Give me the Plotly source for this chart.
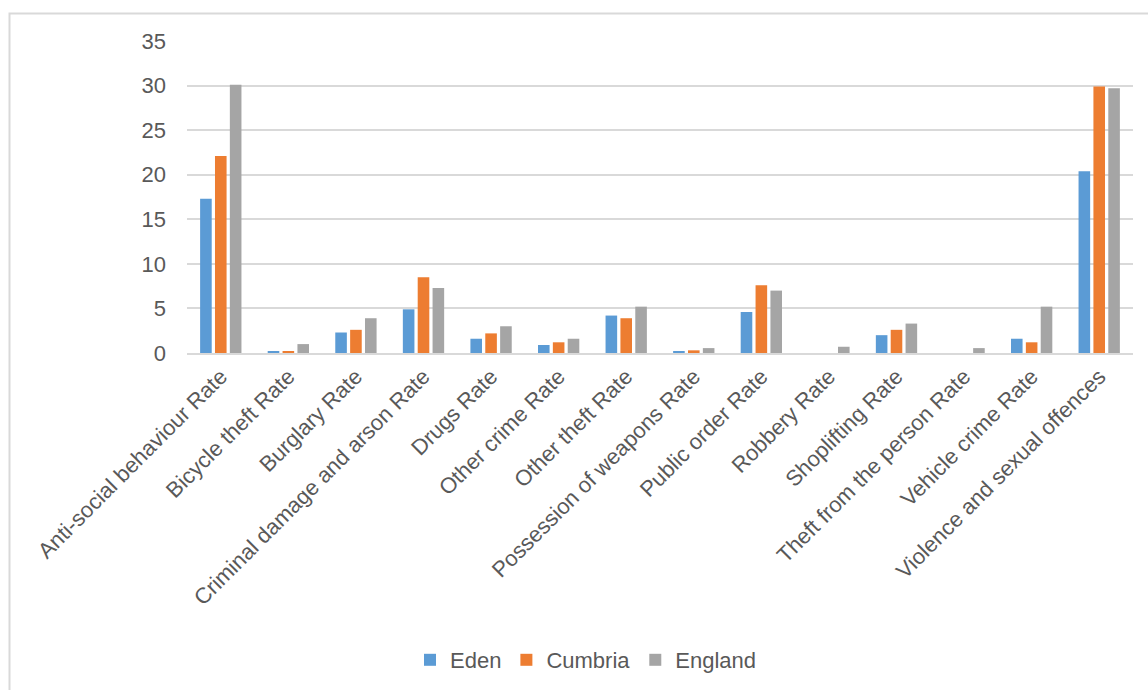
import plotly.graph_objects as go

categories = [
    "Anti-social behaviour Rate",
    "Bicycle theft Rate",
    "Burglary Rate",
    "Criminal damage and arson Rate",
    "Drugs Rate",
    "Other crime Rate",
    "Other theft Rate",
    "Possession of weapons Rate",
    "Public order Rate",
    "Robbery Rate",
    "Shoplifting Rate",
    "Theft from the person Rate",
    "Vehicle crime Rate",
    "Violence and sexual offences",
]

eden = [17.3, 0.15, 2.3, 4.9, 1.6, 0.9, 4.2, 0.15, 4.6, 0.0, 2.0, 0.0, 1.6, 20.4]
cumbria = [22.1, 0.2, 2.6, 8.5, 2.2, 1.2, 3.9, 0.3, 7.6, 0.0, 2.6, 0.0, 1.2, 29.9]
england = [30.1, 1.0, 3.9, 7.3, 3.0, 1.6, 5.2, 0.55, 7.0, 0.7, 3.3, 0.55, 5.2, 29.7]

y_ticks = [0, 5, 10, 15, 20, 25, 30, 35]

series = [
    ("Eden", eden, "#5b9bd5"),
    ("Cumbria", cumbria, "#ed7d31"),
    ("England", england, "#a5a5a5"),
]

fig = go.Figure()
for name, vals, color in series:
    fig.add_trace(go.Bar(
        name=name, x=categories, y=vals,
        marker=dict(color=color, line=dict(width=0)),
    ))

W, H = 1148, 690
L, R, T, B = 187, 15, 41, 337
pw = W - L - R
ph = H - T - B

def px_x(p):
    return (p - L) / pw

def px_y(p):
    return (H - B - p) / ph

text_font = dict(family="Liberation Sans, Arial, sans-serif", size=22, color="#595959")

fig.update_layout(
    width=W, height=H,
    margin=dict(l=L, r=R, t=T, b=B, autoexpand=False),
    paper_bgcolor="white",
    plot_bgcolor="white",
    barmode="group",
    bargap=0.34,
    bargroupgap=0.22,
    font=text_font,
    showlegend=True,
    legend=dict(
        orientation="h",
        x=px_x(586), xanchor="center",
        y=px_y(660), yanchor="middle",
        font=text_font,
        itemwidth=30,
        traceorder="normal",
    ),
    xaxis=dict(
        tickangle=-45,
        tickfont=text_font,
        showgrid=False,
        showline=True,
        linecolor="#d9d9d9",
        linewidth=2,
        ticks="",
        ticklabelstandoff=0,
        automargin=False,
    ),
    yaxis=dict(
        range=[0, 35],
        tickvals=y_ticks,
        ticktext=[str(v) for v in y_ticks],
        tickfont=text_font,
        showgrid=True,
        gridcolor="#d9d9d9",
        gridwidth=2,
        zeroline=False,
        showline=False,
        ticks="",
        ticklabelstandoff=20,
        automargin=False,
    ),
    shapes=[
        dict(
            type="rect", xref="paper", yref="paper",
            x0=px_x(9.5), x1=px_x(1170), y0=px_y(710), y1=px_y(13.5),
            line=dict(color="#d9d9d9", width=2),
            fillcolor="rgba(0,0,0,0)", layer="below",
        )
    ],
)

fig.write_html("out.html")
